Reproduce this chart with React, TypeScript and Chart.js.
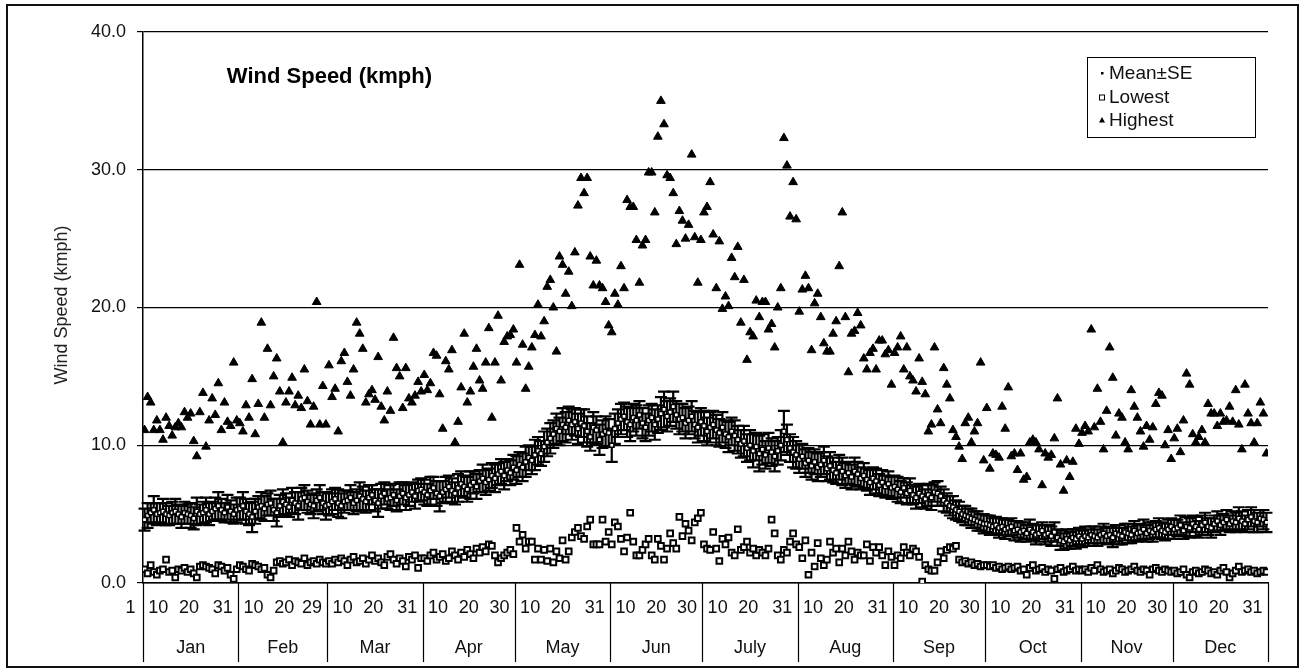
import React, { useEffect, useRef } from "react";
import { Chart, registerables } from "chart.js";

Chart.register(...registerables);

const monthNames = ["Jan", "Feb", "Mar", "Apr", "May", "Jun", "July", "Aug", "Sep", "Oct", "Nov", "Dec"];
const monthDays = [31, 29, 31, 30, 31, 30, 31, 31, 30, 31, 30, 31];
const dayTickLabels = [
  ["1", "10", "20", "31"], ["10", "20", "29"], ["10", "20", "31"], ["10", "20", "30"],
  ["10", "20", "31"], ["10", "20", "30"], ["10", "20", "31"], ["10", "20", "31"],
  ["10", "20", "30"], ["10", "20", "31"], ["10", "20", "30"], ["10", "20", "31"],
];
const yTicks = [0, 10, 20, 30, 40];

// Mean daily wind speed (kmph), one value per day
const meanSpeed = [
  4.6, 4.9, 5.1, 5.3, 5.0, 5.1, 5.2, 5.0, 4.9, 5.1, 5.2, 5.0, 4.8, 5.1, 5.0, 4.9, 4.7, 5.2, 5.0, 5.1, 5.3, 5.0, 5.2, 5.4, 5.6, 5.3, 5.1, 5.5, 5.2, 5.0, 5.3,
  5.4, 5.6, 5.2, 5.0, 4.8, 5.2, 5.5, 5.6, 5.4, 5.7, 5.8, 5.3, 5.1, 5.6, 5.9, 5.7, 5.5, 6.0, 5.8, 5.6, 6.1, 6.2, 5.9, 5.7, 5.6, 6.0, 6.2, 5.8, 5.6,
  5.7, 5.9, 6.1, 5.8, 5.6, 5.9, 6.0, 6.2, 5.8, 6.0, 6.3, 6.1, 5.9, 6.2, 6.4, 6.0, 5.8, 6.3, 6.5, 6.1, 6.2, 6.4, 6.0, 6.3, 6.5, 6.2, 6.4, 6.6, 6.3, 6.7, 6.8,
  6.6, 6.4, 6.7, 6.9, 6.5, 6.3, 6.6, 6.8, 7.0, 6.7, 6.5, 6.9, 7.2, 7.0, 6.8, 7.1, 7.3, 7.0, 7.4, 7.6, 7.3, 7.5, 7.8, 7.6, 7.9, 8.1, 7.8, 8.2, 8.0, 8.4,
  8.2, 8.6, 8.4, 8.8, 9.1, 8.9, 9.3, 9.6, 9.4, 9.9, 10.2, 10.5, 10.8, 11.2, 11.0, 11.5, 11.3, 11.8, 11.5, 11.7, 11.2, 11.6, 11.4, 11.0, 10.6, 11.3, 11.1, 10.4, 10.8, 11.0, 10.9,
  10.0, 11.2, 11.6, 11.9, 12.1, 11.7, 11.5, 12.0, 11.8, 12.2, 11.6, 11.3, 11.8, 12.0, 11.5, 11.9, 12.3, 12.6, 12.1, 12.4, 12.8, 12.2, 11.9, 12.0, 11.6, 11.8, 12.1, 11.5, 11.3, 11.7,
  11.4, 11.0, 11.3, 11.5, 11.1, 10.9, 11.3, 10.8, 10.6, 11.0, 10.7, 10.4, 10.1, 10.3, 9.8, 10.0, 9.6, 9.9, 9.4, 9.7, 9.3, 9.8, 9.5, 9.2, 9.6, 10.0, 11.0, 10.4, 9.8, 9.5, 9.3,
  9.0, 9.2, 8.7, 8.9, 8.5, 8.8, 8.4, 8.6, 8.9, 8.3, 8.5, 8.2, 8.0, 8.4, 8.1, 7.8, 8.0, 7.7, 8.1, 7.9, 7.6, 7.8, 7.5, 7.3, 7.6, 7.4, 7.1, 7.3, 7.0, 7.2, 6.9,
  7.0, 6.8, 6.6, 6.9, 6.5, 6.7, 6.4, 6.2, 6.5, 6.3, 6.1, 6.4, 6.2, 6.6, 6.5, 6.3, 6.0, 5.8, 5.6, 5.5, 5.3, 5.2, 5.0, 4.9, 4.8, 4.7, 4.6, 4.5, 4.4, 4.3,
  4.3, 4.2, 4.1, 4.2, 4.0, 4.1, 3.9, 4.0, 4.1, 3.8, 3.9, 3.7, 3.8, 3.6, 3.9, 3.7, 3.5, 3.6, 3.8, 3.5, 3.6, 3.4, 3.7, 3.3, 3.1, 3.0, 3.2, 3.1, 3.3, 3.2, 3.4,
  3.2, 3.4, 3.3, 3.5, 3.4, 3.3, 3.5, 3.6, 3.4, 3.5, 3.3, 3.6, 3.5, 3.4, 3.7, 3.6, 3.5, 3.8, 3.6, 3.7, 3.9, 3.6, 3.8, 3.7, 3.9, 4.0, 3.8, 3.7, 3.9, 4.1,
  3.9, 4.0, 4.2, 3.8, 4.1, 4.0, 4.3, 4.1, 3.9, 4.2, 4.4, 4.1, 4.0, 4.3, 4.5, 4.2, 4.4, 4.6, 4.3, 4.5, 4.4, 4.7, 4.5, 4.3, 4.6, 4.8, 4.5, 4.4, 4.7, 4.6, 4.4,
];

// Standard error of the daily mean
const meanSE = [
  0.8, 0.9, 0.7, 1.0, 0.8, 0.7, 0.9, 0.8, 0.7, 0.8, 0.9, 0.7, 0.8, 0.8, 0.7, 0.9, 0.8, 1.0, 0.7, 0.8, 0.9, 0.8, 0.7, 0.8, 1.0, 0.8, 0.7, 0.9, 0.8, 0.7, 0.9,
  0.8, 1.0, 0.9, 0.8, 1.1, 0.9, 0.8, 1.0, 0.9, 0.8, 0.9, 0.8, 1.0, 0.8, 0.9, 0.8, 0.7, 0.9, 0.8, 1.0, 0.8, 0.9, 0.8, 0.7, 0.9, 0.8, 0.9, 0.8, 1.0,
  0.8, 0.9, 0.8, 1.0, 0.9, 0.8, 0.7, 0.9, 0.8, 0.8, 1.0, 0.9, 0.8, 0.9, 0.7, 0.8, 1.0, 0.9, 0.8, 0.7, 0.9, 0.8, 0.8, 1.0, 0.8, 0.9, 0.8, 0.7, 0.9, 0.8, 0.8,
  0.9, 0.8, 1.0, 0.8, 0.9, 1.1, 0.8, 0.9, 0.8, 0.9, 0.8, 1.0, 0.9, 0.8, 0.9, 1.0, 0.8, 0.9, 0.8, 1.0, 0.9, 0.8, 0.9, 1.0, 0.8, 0.9, 1.0, 0.8, 0.9, 0.9,
  1.0, 0.9, 1.0, 1.1, 0.9, 1.0, 1.1, 1.0, 0.9, 1.1, 1.0, 1.1, 1.0, 1.1, 1.0, 1.2, 1.1, 1.0, 1.1, 1.0, 1.1, 1.0, 1.2, 1.1, 1.0, 1.1, 1.0, 1.1, 1.0, 1.1, 1.0,
  1.2, 1.1, 1.0, 1.1, 1.0, 1.1, 1.2, 1.0, 1.1, 1.0, 1.1, 1.0, 1.1, 1.0, 1.1, 1.0, 1.2, 1.3, 1.1, 1.0, 1.1, 1.0, 1.1, 1.0, 1.1, 1.0, 1.1, 1.0, 1.1, 1.0,
  1.1, 1.0, 1.1, 1.0, 1.1, 1.0, 1.1, 1.0, 1.1, 1.0, 1.1, 1.0, 1.0, 1.1, 1.0, 1.1, 1.2, 1.0, 1.3, 1.1, 1.0, 1.1, 1.0, 1.1, 1.0, 1.1, 1.5, 1.1, 1.0, 1.1, 1.0,
  1.0, 0.9, 1.0, 0.9, 1.0, 0.9, 1.0, 0.9, 1.0, 0.9, 1.0, 0.9, 0.8, 0.9, 1.0, 0.9, 0.8, 0.9, 1.0, 0.9, 0.8, 0.9, 0.8, 0.9, 0.8, 0.9, 0.8, 0.9, 0.8, 0.9, 0.8,
  0.8, 0.9, 0.8, 0.7, 0.8, 0.9, 0.7, 0.8, 0.7, 0.8, 0.7, 0.8, 0.9, 0.7, 0.9, 0.7, 0.8, 0.7, 0.7, 0.8, 0.7, 0.7, 0.6, 0.7, 0.6, 0.7, 0.6, 0.7, 0.6, 0.7,
  0.6, 0.7, 0.6, 0.6, 0.7, 0.6, 0.7, 0.6, 0.6, 0.7, 0.6, 0.7, 0.6, 0.6, 0.7, 0.6, 0.7, 0.6, 0.6, 0.7, 0.6, 0.7, 0.7, 0.6, 0.7, 0.6, 0.7, 0.6, 0.6, 0.7, 0.6,
  0.6, 0.7, 0.6, 0.6, 0.7, 0.6, 0.6, 0.7, 0.6, 0.6, 0.7, 0.6, 0.7, 0.6, 0.6, 0.7, 0.6, 0.7, 0.6, 0.6, 0.7, 0.6, 0.6, 0.7, 0.6, 0.7, 0.6, 0.6, 0.7, 0.6,
  0.7, 0.6, 0.7, 0.6, 0.7, 0.7, 0.6, 0.7, 0.6, 0.7, 0.7, 0.6, 0.7, 0.6, 0.7, 0.7, 0.6, 0.7, 0.6, 0.7, 0.7, 0.8, 0.7, 0.6, 0.7, 0.7, 0.8, 0.7, 0.6, 0.7, 0.7,
];

// Lowest daily wind speed (kmph)
const lowestSpeed = [
  1.0, 0.7, 1.3, 0.8, 0.6, 0.9, 1.0, 1.7, 0.8, 0.9, 0.4, 1.0, 0.9, 1.1, 0.8, 1.0, 0.7, 0.4, 1.2, 1.3, 1.2, 1.1, 1.0, 0.7, 1.3, 1.2, 0.9, 1.1, 0.6, 0.3, 1.0,
  1.3, 1.2, 1.0, 0.9, 1.4, 1.3, 1.2, 1.0, 1.1, 0.6, 0.4, 0.9, 1.5, 1.6, 1.4, 1.5, 1.7, 1.3, 1.6, 1.5, 1.4, 1.8, 1.3, 1.5, 1.6, 1.4, 1.7, 1.5, 1.4,
  1.6, 1.4, 1.7, 1.5, 1.8, 1.6, 1.3, 1.7, 1.9, 1.5, 1.6, 1.8, 1.4, 1.7, 2.0, 1.6, 1.8, 1.5, 1.3, 1.9, 2.1, 1.7, 1.4, 1.8, 1.6, 1.2, 1.9, 1.7, 2.0, 1.1, 1.8,
  1.8, 1.6, 2.0, 2.2, 1.7, 1.9, 2.1, 1.6, 1.8, 2.3, 2.0, 1.7, 2.2, 1.9, 2.4, 2.1, 1.8, 2.5, 2.2, 2.6, 2.3, 2.8, 2.7, 2.0, 1.5, 1.8, 2.0, 2.2, 2.4, 2.1,
  4.0, 3.0, 3.5, 2.5, 3.0, 3.0, 1.7, 2.5, 1.7, 2.4, 1.6, 2.5, 1.5, 2.3, 1.8, 3.1, 1.7, 2.3, 3.3, 3.7, 4.0, 3.4, 3.2, 4.1, 4.6, 2.8, 2.8, 2.8, 4.6, 3.0, 3.7,
  2.8, 4.4, 4.1, 3.2, 2.3, 3.3, 5.1, 3.0, 2.0, 2.0, 2.4, 2.8, 3.2, 2.0, 1.7, 3.2, 2.7, 1.7, 2.5, 3.6, 2.9, 2.5, 4.8, 3.4, 4.3, 3.8, 3.1, 4.4, 4.7, 5.1,
  2.8, 2.5, 2.4, 3.7, 2.5, 1.6, 3.2, 2.8, 3.3, 2.2, 2.0, 3.9, 2.4, 2.6, 3.0, 2.2, 2.5, 2.0, 2.4, 2.2, 2.0, 2.5, 4.6, 3.6, 2.0, 1.7, 2.4, 2.2, 3.0, 3.6, 2.8,
  2.6, 1.8, 3.1, 0.6, 2.2, 1.2, 2.9, 1.8, 1.3, 1.7, 3.0, 2.2, 2.5, 1.5, 2.5, 2.0, 3.0, 2.3, 1.7, 2.2, 2.0, 2.0, 2.8, 1.6, 2.6, 2.2, 2.6, 2.0, 1.3, 2.3, 1.9,
  1.3, 2.0, 1.8, 2.6, 2.2, 2.0, 2.5, 2.3, 1.9, 0.1, 1.3, 1.0, 0.9, 0.9, 1.5, 2.3, 1.8, 2.4, 2.6, 2.5, 2.7, 1.7, 1.5, 1.6, 1.4, 1.5, 1.3, 1.4, 1.2, 1.3,
  1.3, 1.2, 1.3, 1.1, 1.2, 1.0, 1.1, 1.2, 1.0, 1.1, 1.2, 0.9, 1.0, 0.6, 1.1, 1.3, 0.9, 1.0, 1.1, 0.8, 1.0, 0.9, 0.3, 1.0, 1.1, 0.8, 0.9, 1.0, 1.2, 0.9, 1.0,
  0.9, 1.0, 0.8, 1.1, 0.9, 1.3, 1.0, 0.8, 0.9, 1.0, 0.7, 0.9, 1.1, 1.0, 0.8, 0.9, 1.0, 1.2, 0.9, 0.8, 1.0, 0.9, 0.6, 1.0, 1.1, 0.9, 0.8, 1.0, 0.9, 0.8,
  0.9, 0.7, 0.8, 1.0, 0.6, 0.4, 0.8, 0.9, 0.7, 0.8, 1.0, 0.9, 0.7, 0.8, 0.6, 0.9, 1.1, 0.8, 0.4, 0.7, 0.9, 1.2, 0.8, 0.9, 1.0, 0.8, 0.9, 0.7, 0.8, 0.9, 0.8,
];

// Highest daily wind speed (kmph)
const highestSpeed = [
  11.1, 13.5, 13.1, 11.1, 11.8, 11.1, 10.4, 12.0, 11.4, 10.7, 11.3, 11.6, 11.3, 12.4, 12.0, 12.3, 10.3, 9.2, 12.4, 13.8, 9.9, 11.8, 13.4, 12.2, 14.5, 11.1, 13.1, 11.7, 11.4, 16.0, 11.8,
  11.6, 11.0, 12.9, 12.0, 14.8, 10.8, 13.0, 18.9, 12.0, 17.0, 12.9, 15.0, 16.3, 13.9, 10.2, 13.1, 13.9, 14.9, 12.9, 13.6, 12.7, 15.5, 13.2, 11.5, 12.8, 20.4, 11.5, 14.3, 11.5,
  15.8, 13.5, 14.1, 11.0, 16.1, 16.7, 14.6, 13.6, 15.5, 18.9, 18.1, 17.0, 13.1, 13.7, 14.0, 13.3, 16.4, 12.8, 11.8, 13.9, 12.5, 17.8, 15.6, 15.0, 12.7, 15.6, 13.4, 13.1, 13.6, 14.6, 13.9,
  15.1, 14.0, 14.5, 16.7, 16.5, 13.7, 11.2, 16.1, 15.5, 16.9, 10.2, 11.7, 14.2, 18.1, 13.1, 13.9, 15.7, 17.0, 14.7, 14.1, 16.0, 18.5, 12.0, 16.0, 19.4, 14.7, 17.5, 17.9, 18.0, 18.4,
  16.0, 23.1, 17.3, 14.1, 15.7, 17.1, 18.0, 20.2, 17.9, 19.0, 21.5, 22.0, 20.0, 16.8, 23.7, 23.1, 21.0, 22.6, 20.1, 24.0, 27.4, 29.4, 28.3, 29.4, 23.7, 21.6, 23.4, 21.6, 21.4, 20.4, 18.7,
  18.2, 21.0, 20.2, 23.0, 21.4, 27.8, 27.3, 27.3, 24.9, 21.8, 24.5, 24.9, 29.8, 29.8, 26.9, 32.4, 35.0, 33.3, 29.6, 29.4, 28.3, 24.6, 27.0, 26.3, 25.0, 26.0, 31.1, 25.1, 21.8, 24.9,
  26.9, 27.3, 29.1, 25.3, 21.4, 24.8, 19.9, 20.8, 20.1, 23.6, 22.2, 24.4, 18.9, 22.0, 16.2, 18.2, 17.9, 20.5, 19.3, 20.4, 20.4, 18.4, 18.8, 17.1, 20.0, 21.4, 32.3, 30.3, 26.6, 29.1, 26.4,
  19.7, 21.3, 22.3, 21.4, 16.9, 20.3, 21.0, 19.3, 17.4, 16.8, 16.8, 18.1, 19.0, 23.0, 26.9, 19.3, 15.3, 18.1, 18.3, 19.6, 18.7, 16.3, 15.5, 16.7, 17.0, 15.5, 17.6, 17.6, 16.6, 16.9, 14.4,
  16.7, 17.1, 17.9, 15.5, 17.1, 15.0, 14.7, 13.9, 16.3, 14.6, 13.7, 11.0, 11.5, 17.1, 12.6, 11.6, 15.6, 14.4, 13.4, 11.1, 10.6, 9.9, 9.0, 11.6, 12.0, 10.2, 11.0, 11.6, 16.0, 8.9,
  12.7, 8.3, 9.4, 9.3, 9.1, 12.8, 11.2, 14.2, 9.2, 9.4, 8.2, 9.4, 7.5, 7.7, 10.2, 10.4, 10.2, 9.7, 7.1, 9.4, 9.1, 9.3, 10.5, 13.4, 8.6, 6.7, 8.9, 7.7, 8.8, 11.2, 10.1,
  10.9, 11.4, 11.0, 18.4, 11.3, 14.1, 11.7, 9.7, 12.5, 17.1, 14.9, 10.7, 12.3, 12.0, 10.2, 9.7, 14.0, 12.8, 12.0, 11.0, 9.9, 11.4, 10.4, 11.3, 13.0, 13.8, 13.6, 10.0, 11.1, 9.0,
  10.5, 11.2, 9.5, 11.8, 15.2, 14.4, 10.8, 10.2, 10.6, 11.1, 10.2, 13.0, 12.3, 12.3, 11.4, 12.3, 11.7, 11.8, 12.8, 11.7, 14.0, 11.5, 9.7, 14.4, 12.3, 11.6, 10.2, 11.6, 13.1, 12.3, 9.4,
];

const FONT = "'Liberation Sans', Arial, Helvetica, sans-serif";

function monthStarts(): number[] {
  const starts: number[] = [];
  let s = 1;
  for (const n of monthDays) {
    starts.push(s);
    s += n;
  }
  return starts;
}

export default function App() {
  const canvasRef = useRef<HTMLCanvasElement | null>(null);

  useEffect(() => {
    const canvas = canvasRef.current;
    if (!canvas) return;
    const starts = monthStarts();
    const totalDays = monthDays.reduce((a, b) => a + b, 0);
    const tickValues: number[] = [];
    const tickLabelMap = new Map<number, string>();
    dayTickLabels.forEach((labels, m) => {
      labels.forEach((lab) => {
        const v = starts[m] + parseInt(lab, 10) - 1;
        tickValues.push(v);
        tickLabelMap.set(v, lab);
      });
    });

    const days = meanSpeed.map((_, i) => i + 1);
    const meanPts = days.map((d, i) => ({ x: d, y: meanSpeed[i] }));
    const lowPts = days.map((d, i) => ({ x: d, y: lowestSpeed[i] }));
    const highPts = days.map((d, i) => ({ x: d, y: highestSpeed[i] }));

    const errorBars = {
      id: "errorBars",
      beforeDatasetsDraw(chart: any) {
        const { ctx, scales } = chart;
        const xs = scales.x;
        const ys = scales.y;
        ctx.save();
        ctx.strokeStyle = "#000";
        ctx.lineWidth = 2.2;
        meanSpeed.forEach((m, i) => {
          const x = xs.getPixelForValue(days[i]);
          const yt = ys.getPixelForValue(m + meanSE[i]);
          const yb = ys.getPixelForValue(m - meanSE[i]);
          ctx.beginPath();
          ctx.moveTo(x, yt);
          ctx.lineTo(x, yb);
          ctx.moveTo(x - 6, yt);
          ctx.lineTo(x + 6, yt);
          ctx.moveTo(x - 6, yb);
          ctx.lineTo(x + 6, yb);
          ctx.stroke();
        });
        ctx.restore();
      },
    };

    const decor = {
      id: "decor",
      afterDraw(chart: any) {
        const { ctx, scales, chartArea } = chart;
        const xs = scales.x;
        ctx.save();
        // month separators and names
        ctx.strokeStyle = "#000";
        ctx.lineWidth = 1.2;
        const bottom = 662;
        const bounds = [...starts, totalDays + 1];
        bounds.forEach((b) => {
          const x = Math.round(xs.getPixelForValue(b - 0.5)) + 0.5;
          ctx.beginPath();
          ctx.moveTo(x, chartArea.bottom);
          ctx.lineTo(x, bottom);
          ctx.stroke();
        });
        ctx.fillStyle = "#111";
        ctx.font = `18px ${FONT}`;
        ctx.textAlign = "center";
        ctx.textBaseline = "middle";
        monthNames.forEach((name, m) => {
          const x0 = xs.getPixelForValue(bounds[m] - 0.5);
          const x1 = xs.getPixelForValue(bounds[m + 1] - 0.5);
          ctx.fillText(name, (x0 + x1) / 2, 648);
        });

        // chart title inside plot
        ctx.font = `bold 22px ${FONT}`;
        ctx.textAlign = "right";
        ctx.fillStyle = "#000";
        ctx.fillText("Wind Speed (kmph)", 432, 77);

        // y axis title
        ctx.save();
        ctx.translate(62, 305);
        ctx.rotate(-Math.PI / 2);
        ctx.font = `18px ${FONT}`;
        ctx.fillStyle = "#222";
        ctx.textAlign = "center";
        ctx.fillText("Wind Speed (kmph)", 0, 0);
        ctx.restore();

        // legend
        const lx = 1087, ly = 57, lw = 168, lh = 80;
        ctx.fillStyle = "#fff";
        ctx.fillRect(lx, ly, lw, lh);
        ctx.strokeStyle = "#000";
        ctx.lineWidth = 1;
        ctx.strokeRect(lx + 0.5, ly + 0.5, lw, lh);
        const labels = chart.data.datasets.map((d: any) => d.label);
        const rows = [73, 97, 120];
        ctx.font = `19px ${FONT}`;
        ctx.textAlign = "left";
        labels.forEach((lab: string, i: number) => {
          const y = rows[i];
          const mx = 1102;
          ctx.fillStyle = "#000";
          if (i === 0) {
            ctx.fillRect(mx - 1, y - 1, 2.5, 2.5);
          } else if (i === 1) {
            ctx.strokeStyle = "#000";
            ctx.lineWidth = 1;
            ctx.strokeRect(mx - 2.5, y - 2, 5, 5);
          } else {
            ctx.beginPath();
            ctx.moveTo(mx, y - 3);
            ctx.lineTo(mx + 3, y + 2.5);
            ctx.lineTo(mx - 3, y + 2.5);
            ctx.closePath();
            ctx.fill();
          }
          ctx.fillStyle = "#111";
          ctx.fillText(lab, 1109, y + 1);
        });

        // outer frame
        ctx.strokeStyle = "#111";
        ctx.lineWidth = 2;
        ctx.strokeRect(7, 5, 1291, 662);
        ctx.restore();
      },
    };

    const chart = new Chart(canvas, {
      type: "scatter",
      data: {
        datasets: [
          {
            label: "Mean\u00B1SE",
            data: meanPts,
            pointStyle: "rect",
            pointRadius: 3,
            pointBackgroundColor: "#fff",
            pointBorderColor: "#000",
            pointBorderWidth: 1.5,
            showLine: false,
          },
          {
            label: "Lowest",
            data: lowPts,
            pointStyle: "rect",
            pointRadius: 4,
            pointBackgroundColor: "#fff",
            pointBorderColor: "#000",
            pointBorderWidth: 2,
            showLine: false,
          },
          {
            label: "Highest",
            data: highPts,
            pointStyle: "triangle",
            pointRadius: 5,
            pointBackgroundColor: "#000",
            pointBorderColor: "#000",
            pointBorderWidth: 1,
            showLine: false,
          },
        ],
      } as any,
      options: {
        animation: false,
        responsive: false,
        maintainAspectRatio: false,
        layout: { padding: { left: 0, right: 36, top: 32, bottom: 0 } },
        plugins: { legend: { display: false }, tooltip: { enabled: false } },
        scales: {
          x: {
            type: "linear",
            min: 0.5,
            max: totalDays + 0.5,
            grid: { display: false, drawTicks: false },
            border: { display: true, color: "#000", width: 1.5 },
            afterBuildTicks: (s: any) => {
              s.ticks = tickValues.map((v) => ({ value: v }));
            },
            afterFit: (s: any) => {
              s.height = 88;
            },
            ticks: {
              autoSkip: false,
              maxRotation: 0,
              minRotation: 0,
              padding: 14,
              labelOffset: -14,
              color: "#111",
              font: { family: FONT, size: 18 },
              callback: (v: any) => tickLabelMap.get(Number(v)) ?? "",
            },
          },
          y: {
            type: "linear",
            min: yTicks[0],
            max: yTicks[yTicks.length - 1],
            afterBuildTicks: (s: any) => {
              s.ticks = yTicks.map((v) => ({ value: v }));
            },
            afterFit: (s: any) => {
              s.width = 143;
            },
            grid: { color: "#000", lineWidth: 1.2, tickLength: 6, drawTicks: true },
            border: { display: true, color: "#000", width: 1.5 },
            ticks: {
              padding: 11,
              color: "#111",
              font: { family: FONT, size: 18 },
              callback: (v: any) => Number(v).toFixed(1),
            },
          },
        },
      } as any,
      plugins: [errorBars, decor],
    });

    return () => chart.destroy();
  }, []);

  return (
    <div style={{ position: "fixed", left: 0, top: 0, width: 1304, height: 671, background: "#fff" }}>
      <canvas ref={canvasRef} width={1304} height={671} style={{ width: 1304, height: 671, display: "block" }} />
    </div>
  );
}
